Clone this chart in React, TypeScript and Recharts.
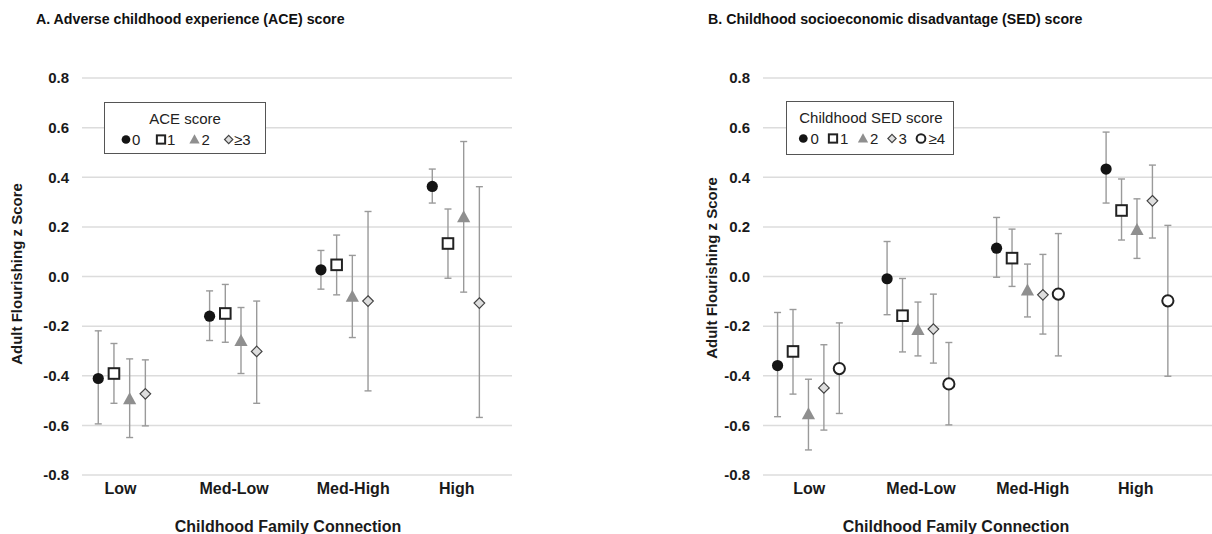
import React from "react";
import { ScatterChart, Scatter, XAxis, YAxis, CartesianGrid, ErrorBar } from "recharts";

const FONT = "'Liberation Sans', Arial, Helvetica, sans-serif";

const groups = ["Low", "Med-Low", "Med-High", "High"];
const yTicks = [-0.8, -0.6, -0.4, -0.2, 0, 0.2, 0.4, 0.6, 0.8];

// Panel A - ACE score (rows = score level, columns = family connection group)
const aceLevels = ["0", "1", "2", "≥3"];
const aceMean = [
  [-0.411, -0.16, 0.027, 0.363],
  [-0.391, -0.149, 0.047, 0.133],
  [-0.494, -0.259, -0.081, 0.24],
  [-0.473, -0.302, -0.099, -0.107],
];
const aceLower = [
  [-0.594, -0.258, -0.051, 0.296],
  [-0.511, -0.265, -0.074, -0.007],
  [-0.649, -0.391, -0.246, -0.063],
  [-0.602, -0.511, -0.461, -0.568],
];
const aceUpper = [
  [-0.219, -0.058, 0.105, 0.433],
  [-0.27, -0.032, 0.167, 0.272],
  [-0.332, -0.125, 0.085, 0.544],
  [-0.336, -0.099, 0.262, 0.362],
];

// Panel B - childhood SED score
const sedLevels = ["0", "1", "2", "3", "≥4"];
const sedMean = [
  [-0.359, -0.009, 0.114, 0.433],
  [-0.302, -0.158, 0.074, 0.266],
  [-0.554, -0.215, -0.056, 0.188],
  [-0.449, -0.212, -0.074, 0.305],
  [-0.371, -0.433, -0.071, -0.098],
];
const sedLower = [
  [-0.565, -0.154, -0.003, 0.296],
  [-0.474, -0.304, -0.04, 0.147],
  [-0.699, -0.32, -0.163, 0.073],
  [-0.619, -0.349, -0.232, 0.155],
  [-0.552, -0.598, -0.32, -0.402],
];
const sedUpper = [
  [-0.145, 0.141, 0.238, 0.582],
  [-0.133, -0.008, 0.191, 0.393],
  [-0.414, -0.103, 0.05, 0.313],
  [-0.275, -0.071, 0.089, 0.449],
  [-0.187, -0.266, 0.173, 0.206],
];

const kinds = ["dot", "square", "triangle", "diamond", "circle"];
const STEP = 0.141;

const Marker = ({ kind, cx, cy, s = 1 }: { kind: string; cx: number; cy: number; s?: number }) => {
  if (cx == null || cy == null) return null;
  switch (kind) {
    case "dot":
      return <circle cx={cx} cy={cy} r={5.6 * s} fill="#141414" />;
    case "square":
      return (
        <rect x={cx - 5.3 * s} y={cy - 5.3 * s} width={10.6 * s} height={10.6 * s}
          fill="#fff" stroke="#222" strokeWidth={2} />
      );
    case "triangle":
      return (
        <polygon
          points={`${cx},${cy - 6.8 * s} ${cx + 6.6 * s},${cy + 5.2 * s} ${cx - 6.6 * s},${cy + 5.2 * s}`}
          fill="#8f8f8f" />
      );
    case "diamond":
      return (
        <polygon
          points={`${cx},${cy - 5.3 * s} ${cx + 5.3 * s},${cy} ${cx},${cy + 5.3 * s} ${cx - 5.3 * s},${cy}`}
          fill="#dedede" stroke="#444" strokeWidth={1.2} />
      );
    default:
      return <circle cx={cx} cy={cy} r={5.6 * s} fill="#fff" stroke="#222" strokeWidth={2} />;
  }
};

type PanelProps = {
  mean: number[][];
  lower: number[][];
  upper: number[][];
  domain: [number, number];
  tickPos: number[];
  left: number;
  width: number;
  marginRight: number;
};

const Panel = ({ mean, lower, upper, domain, tickPos, left, width, marginRight }: PanelProps) => (
  <div style={{ position: "absolute", left, top: 0 }}>
    <ScatterChart width={width} height={534} margin={{ top: 78, right: marginRight, bottom: 29, left: 0 }}>
      <CartesianGrid vertical={false} stroke="#dcdcdc" strokeWidth={1.5} />
      <XAxis
        type="number"
        dataKey="x"
        domain={domain}
        ticks={tickPos}
        interval={0}
        height={30}
        axisLine={false}
        tickLine={false}
        tickSize={0}
        tickMargin={8}
        tickFormatter={(_v: number, i: number) => groups[i]}
        tick={{ fill: "#1a1a1a", fontSize: 16, fontWeight: "bold", fontFamily: FONT }}
      />
      <YAxis
        type="number"
        dataKey="y"
        domain={[-0.8, 0.8]}
        ticks={yTicks}
        interval={0}
        width={82}
        axisLine={false}
        tickLine={false}
        tickSize={0}
        tickMargin={13}
        allowDataOverflow
        tickFormatter={(v: number) => v.toFixed(1)}
        tick={{ fill: "#1a1a1a", fontSize: 15, fontWeight: "bold", fontFamily: FONT }}
      />
      {mean.map((row, s) => (
        <Scatter
          key={s}
          isAnimationActive={false}
          data={row.map((v, g) => ({
            x: g + s * STEP,
            y: v,
            err: [v - lower[s][g], upper[s][g] - v],
          }))}
          shape={(p: any) => <Marker kind={kinds[s]} cx={p.cx} cy={p.cy} />}
        >
          <ErrorBar dataKey="err" direction="y" width={3.5} stroke="#9a9a9a" strokeWidth={1.4} />
        </Scatter>
      ))}
    </ScatterChart>
  </div>
);

const LegendBox = ({ x, y, w, h, title, titleX, levels, symX, textX }: {
  x: number; y: number; w: number; h: number; title: string; titleX: number;
  levels: string[]; symX: number[]; textX: number[];
}) => (
  <g>
    <rect x={x} y={y} width={w} height={h} fill="#fff" stroke="#555" strokeWidth={1} />
    <text x={titleX} y={y + 21} textAnchor="middle" fontSize={15} fill="#222" fontFamily={FONT}>{title}</text>
    {levels.map((lv, i) => (
      <g key={lv}>
        <Marker kind={kinds[i]} cx={symX[i]} cy={y + 37} s={0.78} />
        <text x={textX[i]} y={y + 42.5} fontSize={15} fill="#222" fontFamily={FONT}>{lv}</text>
      </g>
    ))}
  </g>
);

export default function App() {
  return (
    <div style={{ position: "absolute", left: 0, top: 0, width: 1212, height: 534, background: "#fff", overflow: "hidden" }}>
      <Panel mean={aceMean} lower={aceLower} upper={aceUpper}
        domain={[-0.146, 3.716]} tickPos={[0.2, 1.22, 2.29, 3.22]}
        left={0} width={600} marginRight={88} />
      <Panel mean={sedMean} lower={sedLower} upper={sedUpper}
        domain={[-0.133, 3.967]} tickPos={[0.29, 1.31, 2.33, 3.27]}
        left={681} width={531} marginRight={0} />
      <svg width={1212} height={534} style={{ position: "absolute", left: 0, top: 0, pointerEvents: "none" }}>
        <text x={36} y={24} fontSize={14.2} fontWeight="bold" fill="#111" fontFamily={FONT}>
          A. Adverse childhood experience (ACE) score
        </text>
        <text x={708} y={24} fontSize={14.2} fontWeight="bold" fill="#111" fontFamily={FONT}>
          B. Childhood socioeconomic disadvantage (SED) score
        </text>
        <text x={288} y={532} textAnchor="middle" fontSize={16} fontWeight="bold" fill="#1a1a1a" fontFamily={FONT}>
          Childhood Family Connection
        </text>
        <text x={956} y={532} textAnchor="middle" fontSize={16} fontWeight="bold" fill="#1a1a1a" fontFamily={FONT}>
          Childhood Family Connection
        </text>
        <text transform="translate(22,274) rotate(-90)" textAnchor="middle" fontSize={15} fontWeight="bold" fill="#1a1a1a" fontFamily={FONT}>
          Adult Flourishing z Score
        </text>
        <text transform="translate(717,268) rotate(-90)" textAnchor="middle" fontSize={15} fontWeight="bold" fill="#1a1a1a" fontFamily={FONT}>
          Adult Flourishing z Score
        </text>
        <LegendBox x={104.5} y={102.5} w={161} h={51} title="ACE score" titleX={185}
          levels={aceLevels} symX={[126, 161, 194.5, 228.7]} textX={[132, 167, 201.5, 234]} />
        <LegendBox x={786.5} y={101.5} w={167} h={53} title="Childhood SED score" titleX={871}
          levels={sedLevels} symX={[803.3, 833, 863, 892, 921]} textX={[810.5, 840, 870, 898.5, 928.5]} />
      </svg>
    </div>
  );
}
